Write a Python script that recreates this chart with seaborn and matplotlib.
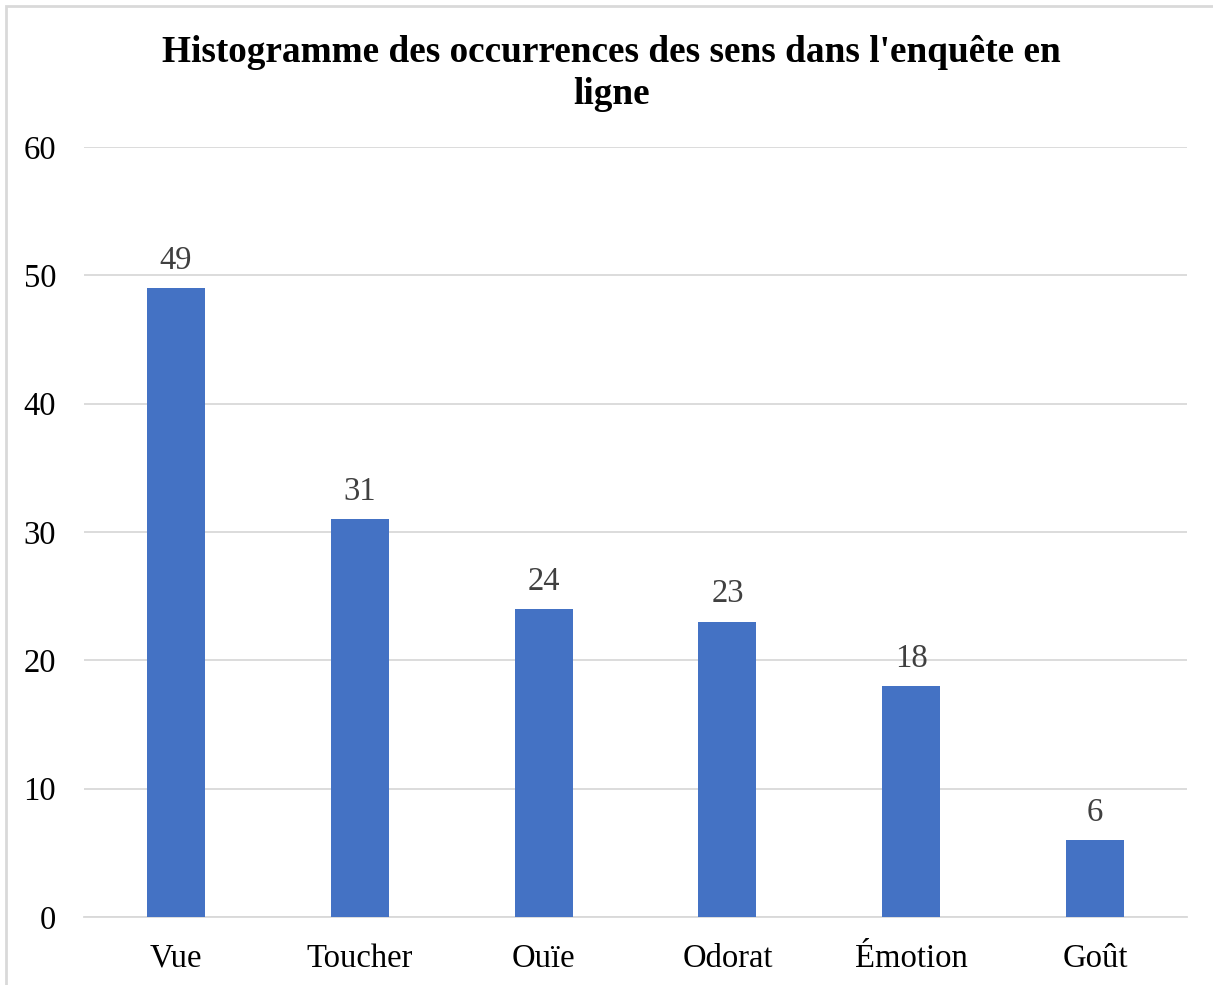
import matplotlib
matplotlib.use("Agg")
import matplotlib.pyplot as plt
import seaborn as sns
import pandas as pd
from matplotlib.patches import Rectangle

categories = ["Vue", "Toucher", "Ouïe", "Odorat", "Émotion", "Goût"]
occurrences = [49, 31, 24, 23, 18, 6]
y_ticks = [0, 10, 20, 30, 40, 50, 60]

sns.set_theme(style="white")
plt.rcParams["font.family"] = ["Liberation Serif", "DejaVu Serif"]

df = pd.DataFrame({"sens": categories, "occurrences": occurrences})

fig = plt.figure(figsize=(12.13, 9.85), dpi=100)
ax = fig.add_axes([0.0692, 0.0690, 0.9094, 0.7818])

sns.barplot(data=df, x="sens", y="occurrences", color="#4472C4",
            saturation=1, width=0.315, linewidth=0, edgecolor="none",
            ax=ax, zorder=3)

ax.set_ylim(0, 60)
ax.set_yticks(y_ticks)
ax.set_xlim(-0.5, len(categories) - 0.5)
ax.yaxis.grid(True, color="#d9d9d9", linewidth=1.3, zorder=0)
ax.set_axisbelow(True)
for s in ["top", "right", "left"]:
    ax.spines[s].set_visible(False)
ax.spines["bottom"].set_color("#d9d9d9")
ax.spines["bottom"].set_linewidth(1.3)
ax.set_xlabel("")
ax.set_ylabel("")
ax.tick_params(axis="y", labelsize=23.5, colors="black", length=0, pad=20)
ax.tick_params(axis="x", labelsize=23.5, colors="black", length=0, pad=19)

for container in ax.containers:
    ax.bar_label(container, labels=[str(v) for v in occurrences],
                 fontsize=23.5, color="#404040", padding=9)

fig.text(0.504, 0.947, "Histogramme des occurrences des sens dans l'enquête en",
         ha="center", va="center", fontsize=26.8, fontweight="bold", color="black")
fig.text(0.504, 0.904, "ligne",
         ha="center", va="center", fontsize=26.8, fontweight="bold", color="black")

fig.patches.append(Rectangle((6 / 1213, -0.01), 1.02, 1 - 6 / 985 + 0.01,
                             transform=fig.transFigure, fill=False,
                             edgecolor="#d9d9d9", linewidth=2))

fig.savefig("out.png", dpi=100, facecolor="white")
